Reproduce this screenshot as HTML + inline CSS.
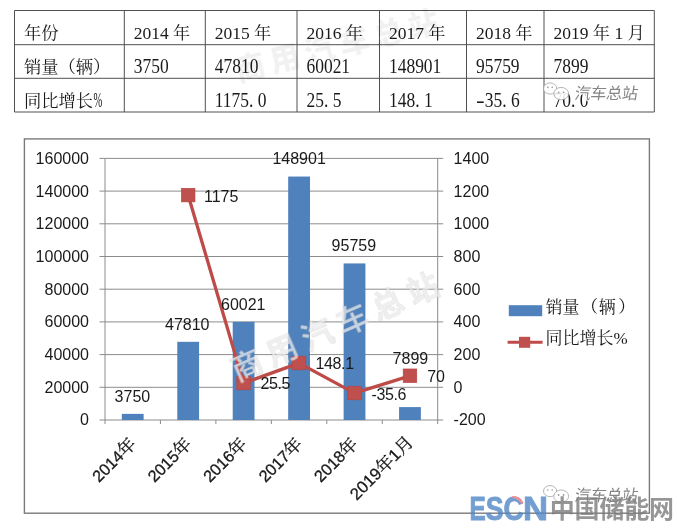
<!DOCTYPE html>
<html lang="zh"><head><meta charset="utf-8"><title>销量</title>
<style>html,body{margin:0;padding:0;background:#fff}body{width:677px;height:528px;overflow:hidden}svg{display:block}.t{font-family:"Liberation Serif","Noto Serif CJK SC",serif;font-size:17.5px;fill:#1a1a1a}.k{font-size:17.3px}.c{font-family:"Liberation Sans","Noto Serif CJK SC",sans-serif;font-size:16px;fill:#1a1a1a}.lg{font-family:"Liberation Serif","Noto Serif CJK SC",serif;font-size:17px;fill:#1a1a1a}</style></head><body>
<svg width="677" height="528" viewBox="0 0 677 528">
<defs><filter id="bl" x="-5%" y="-20%" width="110%" height="140%"><feGaussianBlur stdDeviation="0.5"/></filter></defs>
<rect width="677" height="528" fill="#fff"/>
<g stroke="#505050" stroke-width="1" fill="none">
<line x1="14.5" y1="10.5" x2="654.3" y2="10.5"/>
<line x1="14.5" y1="44.7" x2="654.3" y2="44.7"/>
<line x1="14.5" y1="78.3" x2="654.3" y2="78.3"/>
<line x1="14.5" y1="112" x2="654.3" y2="112"/>
<line x1="14.5" y1="10.5" x2="14.5" y2="112"/>
<line x1="124.3" y1="10.5" x2="124.3" y2="112"/>
<line x1="205.3" y1="10.5" x2="205.3" y2="112"/>
<line x1="297" y1="10.5" x2="297" y2="112"/>
<line x1="379.5" y1="10.5" x2="379.5" y2="112"/>
<line x1="466.5" y1="10.5" x2="466.5" y2="112"/>
<line x1="544" y1="10.5" x2="544" y2="112"/>
<line x1="654.3" y1="10.5" x2="654.3" y2="112"/>
</g>
<g class="t">
<text x="23.9" y="39.3"><tspan class="k">年份</tspan></text>
<text x="133.7" y="38.8">2014 <tspan class="k">年</tspan></text>
<text x="214.70000000000002" y="38.8">2015 <tspan class="k">年</tspan></text>
<text x="306.4" y="38.8">2016 <tspan class="k">年</tspan></text>
<text x="388.9" y="38.8">2017 <tspan class="k">年</tspan></text>
<text x="475.9" y="38.8">2018 <tspan class="k">年</tspan></text>
<text x="553.4" y="38.8">2019 <tspan class="k">年</tspan> 1 <tspan class="k">月</tspan></text>
<text x="23.9" y="72.8"><tspan class="k">销量（辆）</tspan></text>
<text transform="translate(133.7,73.1) scale(1,1.2)">3750</text>
<text transform="translate(214.7,73.1) scale(1,1.2)">47810</text>
<text transform="translate(306.4,73.1) scale(1,1.2)">60021</text>
<text transform="translate(388.9,73.1) scale(1,1.2)">148901</text>
<text transform="translate(475.9,73.1) scale(1,1.2)">95759</text>
<text transform="translate(553.4,73.1) scale(1,1.2)">7899</text>
<text x="23.9" y="106.6"><tspan class="k">同比增长</tspan></text>
<text transform="translate(93.4,107.0) scale(0.6,1.15)">%</text>
<text transform="translate(214.7,107.19999999999999) scale(1,1.2)">1175.<tspan dx="4.4">0</tspan></text>
<text transform="translate(306.4,107.19999999999999) scale(1,1.2)">25.<tspan dx="4.4">5</tspan></text>
<text transform="translate(388.9,107.19999999999999) scale(1,1.2)">148.<tspan dx="4.4">1</tspan></text>
<text transform="translate(475.9,107.19999999999999) scale(1,1.2)"><tspan textLength="8.6" lengthAdjust="spacingAndGlyphs">-</tspan><tspan dx="0.2">35.</tspan><tspan dx="4.4">6</tspan></text>
<text transform="translate(553.4,107.19999999999999) scale(1,1.2)">70.<tspan dx="4.4">0</tspan></text>
</g>
<text transform="translate(238.2,81.2) rotate(-14)" font-family="'Liberation Sans','Noto Sans CJK SC',sans-serif" font-weight="900" font-size="30" letter-spacing="5.7" filter="url(#bl)" fill="#000" fill-opacity="0.055">商用汽车总站</text>
<rect x="24.4" y="138.9" width="625" height="374.3" fill="none" stroke="#7a7a7a" stroke-width="1.4"/>
<g stroke="#8c8c8c" stroke-width="1">
<line x1="99.5" y1="420.00" x2="443.2" y2="420.00"/>
<line x1="99.5" y1="387.30" x2="443.2" y2="387.30"/>
<line x1="99.5" y1="354.60" x2="443.2" y2="354.60"/>
<line x1="99.5" y1="321.90" x2="443.2" y2="321.90"/>
<line x1="99.5" y1="289.20" x2="443.2" y2="289.20"/>
<line x1="99.5" y1="256.50" x2="443.2" y2="256.50"/>
<line x1="99.5" y1="223.80" x2="443.2" y2="223.80"/>
<line x1="99.5" y1="191.10" x2="443.2" y2="191.10"/>
<line x1="99.5" y1="158.40" x2="443.2" y2="158.40"/>
<line x1="105.0" y1="158.4" x2="105.0" y2="424.0"/>
<line x1="437.7" y1="158.4" x2="437.7" y2="424.0"/>
<line x1="160.45" y1="420.0" x2="160.45" y2="424.0"/>
<line x1="215.90" y1="420.0" x2="215.90" y2="424.0"/>
<line x1="271.35" y1="420.0" x2="271.35" y2="424.0"/>
<line x1="326.80" y1="420.0" x2="326.80" y2="424.0"/>
<line x1="382.25" y1="420.0" x2="382.25" y2="424.0"/>
</g>
<g class="c">
<text x="89" y="425.40" text-anchor="end">0</text>
<text x="453.6" y="425.40">-200</text>
<text x="89" y="392.70" text-anchor="end">20000</text>
<text x="453.6" y="392.70">0</text>
<text x="89" y="360.00" text-anchor="end">40000</text>
<text x="453.6" y="360.00">200</text>
<text x="89" y="327.30" text-anchor="end">60000</text>
<text x="453.6" y="327.30">400</text>
<text x="89" y="294.60" text-anchor="end">80000</text>
<text x="453.6" y="294.60">600</text>
<text x="89" y="261.90" text-anchor="end">100000</text>
<text x="453.6" y="261.90">800</text>
<text x="89" y="229.20" text-anchor="end">120000</text>
<text x="453.6" y="229.20">1000</text>
<text x="89" y="196.50" text-anchor="end">140000</text>
<text x="453.6" y="196.50">1200</text>
<text x="89" y="163.80" text-anchor="end">160000</text>
<text x="453.6" y="163.80">1400</text>
</g>
<g fill="#4f81bd">
<rect x="121.82" y="413.87" width="21.8" height="6.13"/>
<rect x="177.28" y="341.83" width="21.8" height="78.17"/>
<rect x="232.72" y="321.87" width="21.8" height="98.13"/>
<rect x="288.18" y="176.55" width="21.8" height="243.45"/>
<rect x="343.62" y="263.43" width="21.8" height="156.57"/>
<rect x="399.07" y="407.09" width="21.8" height="12.91"/>
</g>
<polyline fill="none" stroke="#be4b48" stroke-width="3.3" stroke-linejoin="round" points="188.18,195.19 243.62,383.13 299.07,363.09 354.52,393.12 409.97,375.86"/>
<g fill="#c0504d">
<rect x="181.38" y="188.29" width="13.6" height="13.6" stroke="#b4433f" stroke-width="0.6"/>
<rect x="236.82" y="376.23" width="13.6" height="13.6" stroke="#b4433f" stroke-width="0.6"/>
<rect x="292.27" y="356.19" width="13.6" height="13.6" stroke="#b4433f" stroke-width="0.6"/>
<rect x="347.72" y="386.22" width="13.6" height="13.6" stroke="#b4433f" stroke-width="0.6"/>
<rect x="403.17" y="368.96" width="13.6" height="13.6" stroke="#b4433f" stroke-width="0.6"/>
</g>
<g class="c">
<text x="114.6" y="402.2">3750</text>
<text x="165" y="330.4">47810</text>
<text x="221" y="310.3">60021</text>
<text x="272.4" y="164.4">148901</text>
<text x="331.6" y="251.3">95759</text>
<text x="392.6" y="363.6">7899</text>
<text x="204" y="201.6">1175</text>
<text x="260.5" y="389.4" letter-spacing="-0.4">25.5</text>
<text x="315.6" y="369.2" letter-spacing="-0.4">148.1</text>
<text x="371.6" y="399.6" letter-spacing="-0.4">-35.6</text>
<text x="427.2" y="382.4">70</text>
<text transform="translate(137.12,445) rotate(-45)" text-anchor="end" font-size="16.3" stroke="#1a1a1a" stroke-width="0.3">2014<tspan font-size="17.6">年</tspan></text>
<text transform="translate(192.58,445) rotate(-45)" text-anchor="end" font-size="16.3" stroke="#1a1a1a" stroke-width="0.3">2015<tspan font-size="17.6">年</tspan></text>
<text transform="translate(248.03,445) rotate(-45)" text-anchor="end" font-size="16.3" stroke="#1a1a1a" stroke-width="0.3">2016<tspan font-size="17.6">年</tspan></text>
<text transform="translate(303.47,445) rotate(-45)" text-anchor="end" font-size="16.3" stroke="#1a1a1a" stroke-width="0.3">2017<tspan font-size="17.6">年</tspan></text>
<text transform="translate(358.92,445) rotate(-45)" text-anchor="end" font-size="16.3" stroke="#1a1a1a" stroke-width="0.3">2018<tspan font-size="17.6">年</tspan></text>
<text transform="translate(414.37,443.2) rotate(-45)" text-anchor="end" font-size="16.7" stroke="#1a1a1a" stroke-width="0.3">2019<tspan font-size="17.6">年</tspan>1<tspan font-size="17.6">月</tspan></text>
</g>
<text filter="url(#bl)" transform="translate(237,381.5) rotate(-23.5)" font-family="'Liberation Sans','Noto Sans CJK SC',sans-serif" font-weight="500" font-size="31" letter-spacing="7.4" fill="#ececec" fill-opacity="0.74" stroke="#a0a0a0" stroke-opacity="0.28" stroke-width="1.2" paint-order="stroke">商用汽车总站</text>
<rect x="508.8" y="305.2" width="33.4" height="11" fill="#4f81bd"/>
<line x1="507.6" y1="342.2" x2="542.6" y2="342.2" stroke="#be4b48" stroke-width="3"/>
<rect x="519" y="336.8" width="11.2" height="11" fill="#c0504d"/>
<text class="lg" x="545.5" y="312.8">销量<tspan dx="1.5">（</tspan><tspan dx="0.8">辆</tspan><tspan dx="2.4">）</tspan></text>
<text class="lg" x="545.5" y="343.9">同比增长%</text>
<g transform="translate(543.6,83)"><g fill="#fff" fill-opacity="0.88" stroke="#9a9a9a" stroke-opacity="0.8" stroke-width="0.9"><ellipse cx="6.5" cy="5.5" rx="6.6" ry="5.6"/><ellipse cx="17.6" cy="10.6" rx="7.4" ry="6.2"/></g><g fill="#9a9a9a"><circle cx="4.3" cy="4.4" r="0.8"/><circle cx="8.6" cy="4.4" r="0.8"/><circle cx="15" cy="9.4" r="0.9"/><circle cx="20" cy="9.4" r="0.9"/></g><text transform="translate(30.5,15.6) skewX(-9)" font-family="'Liberation Sans','Noto Sans CJK SC',sans-serif" font-size="16" fill="#858585" stroke="#fff" stroke-width="2.4" paint-order="stroke" letter-spacing="-0.3">汽车总站</text></g>
<g transform="translate(543.6,485.6)"><g fill="#fff" fill-opacity="0.88" stroke="#9a9a9a" stroke-opacity="0.8" stroke-width="0.9"><ellipse cx="6.5" cy="5.5" rx="6.6" ry="5.6"/><ellipse cx="17.6" cy="10.6" rx="7.4" ry="6.2"/></g><g fill="#9a9a9a"><circle cx="4.3" cy="4.4" r="0.8"/><circle cx="8.6" cy="4.4" r="0.8"/><circle cx="15" cy="9.4" r="0.9"/><circle cx="20" cy="9.4" r="0.9"/></g><text transform="translate(30.5,15.6) skewX(-9)" font-family="'Liberation Sans','Noto Sans CJK SC',sans-serif" font-size="16" fill="#858585" stroke="#fff" stroke-width="2.4" paint-order="stroke" letter-spacing="-0.3">汽车总站</text></g>
<g opacity="0.8"><text y="520.1" font-family="'Liberation Sans',sans-serif" font-weight="700" font-size="33.5" fill="#4f86c6" stroke="#4f86c6" stroke-width="0.9"><tspan x="469.6" textLength="16.27" lengthAdjust="spacingAndGlyphs">E</tspan><tspan x="485.8" textLength="17.83" lengthAdjust="spacingAndGlyphs">S</tspan><tspan x="503.4" textLength="20.22" lengthAdjust="spacingAndGlyphs">C</tspan><tspan x="522.9" textLength="25.06" lengthAdjust="spacingAndGlyphs">N</tspan></text><path d="M511.8 496.2 Q519.8 495.2 523.6 502.9 L521.4 503.8 Q518 498.4 511.8 497.6 Z" fill="#ee7480"/><text x="549.8" y="518.2" font-family="'Liberation Sans','Noto Sans CJK SC',sans-serif" font-weight="700" font-size="25" letter-spacing="-0.2" fill="#7d7d7d">中国储能网</text></g>
</svg></body></html>
